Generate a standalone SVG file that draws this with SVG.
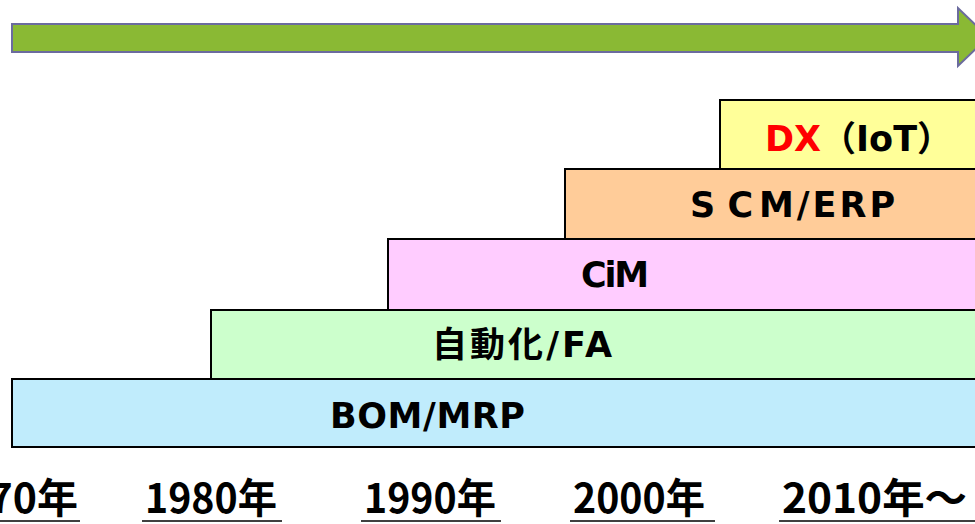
<svg xmlns="http://www.w3.org/2000/svg" width="975" height="524" viewBox="0 0 975 524">
<style>
.box{stroke:#000;stroke-width:2}
.lbl{font-family:"DejaVu Sans","Noto Sans CJK JP",sans-serif;font-weight:bold;font-size:35px;fill:#000}
.cjk{font-family:"Noto Sans CJK JP",sans-serif}
.yr{font-family:"Noto Sans CJK JP",sans-serif;font-weight:bold;font-size:41px;fill:#000}
.ul{stroke:#000;stroke-width:1.5}
</style>
<g id="timeline-arrow">
<polygon points="12,24 958,24 958,8 988,37 958,66 958,52 12,52" fill="#8ab934" stroke="#6b6b9e" stroke-width="2"/>
</g>
<g id="dx">
<rect class="box" x="720" y="100" width="270" height="69" fill="#ffff99"/>
<text class="lbl" x="765" y="151"><tspan fill="#ff0000">DX</tspan><tspan class="cjk">（</tspan>IoT<tspan class="cjk">）</tspan></text>
</g>
<g id="scm-erp">
<rect class="box" x="565" y="169" width="425" height="70" fill="#ffcc99"/>
<text class="lbl" x="690" y="217" xml:space="preserve">S C<tspan x="759" letter-spacing="3">M/ERP</tspan></text>
</g>
<g id="cim">
<rect class="box" x="388" y="239" width="602" height="71" fill="#ffccff"/>
<text class="lbl" x="581" y="287" textLength="68" lengthAdjust="spacing">CiM</text>
</g>
<g id="fa">
<rect class="box" x="211" y="310" width="779" height="69" fill="#ccffcc"/>
<text class="lbl" x="432" y="357" textLength="180" lengthAdjust="spacing">自動化/FA</text>
</g>
<g id="bom-mrp">
<rect class="box" x="12" y="379" width="978" height="68" fill="#c0ecfc"/>
<text class="lbl" x="330" y="428" textLength="195" lengthAdjust="spacing">BOM/MRP</text>
</g>
<g id="years">
<text class="yr" x="78" y="513" text-anchor="end">1970年</text>
<line class="ul" x1="0" y1="521" x2="80" y2="521"/>
<text class="yr" x="145" y="513" textLength="132" lengthAdjust="spacingAndGlyphs">1980年</text>
<line class="ul" x1="142" y1="521" x2="282" y2="521"/>
<text class="yr" x="364" y="513" textLength="132" lengthAdjust="spacingAndGlyphs">1990年</text>
<line class="ul" x1="361" y1="521" x2="501" y2="521"/>
<text class="yr" x="573" y="513" textLength="132" lengthAdjust="spacingAndGlyphs">2000年</text>
<line class="ul" x1="570" y1="521" x2="715" y2="521"/>
<text class="yr" x="782" y="513" textLength="185" lengthAdjust="spacingAndGlyphs">2010年～</text>
<line class="ul" x1="779" y1="521" x2="975" y2="521"/>
</g>
</svg>
